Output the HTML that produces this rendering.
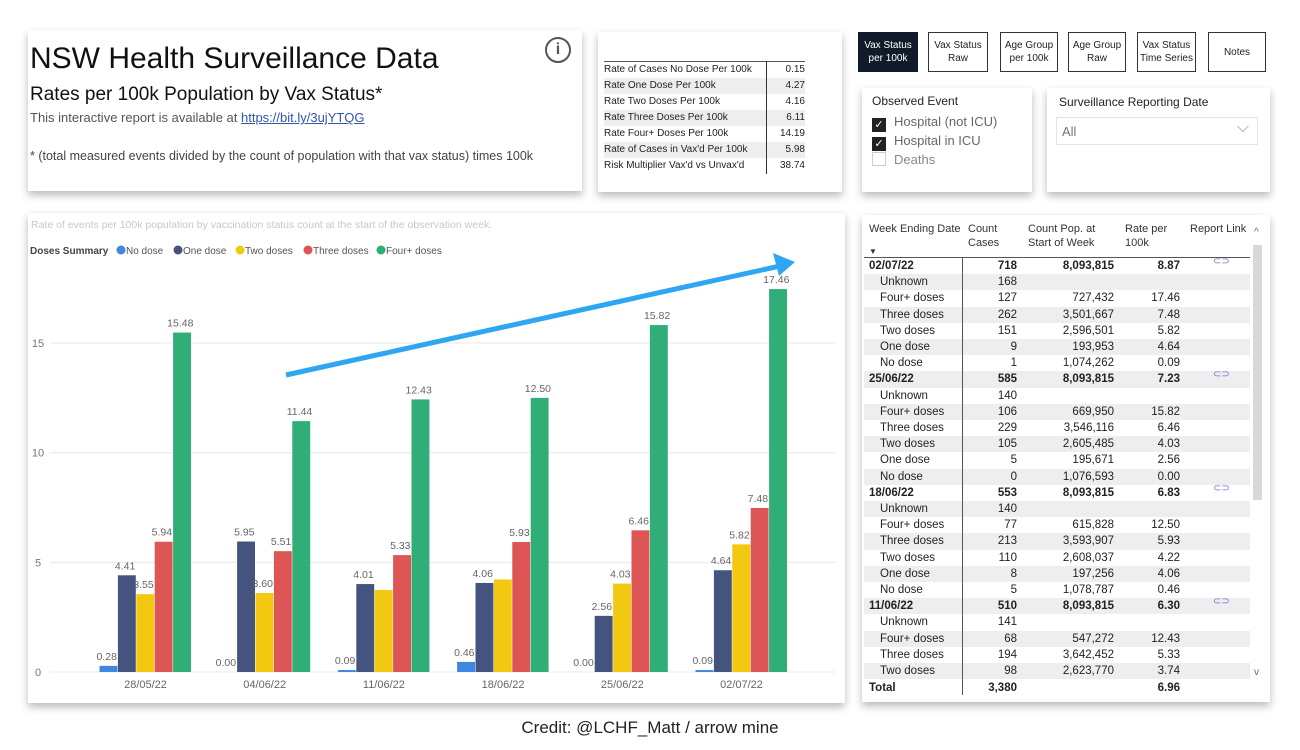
<!DOCTYPE html>
<html><head><meta charset="utf-8"><style>
*{margin:0;padding:0;box-sizing:border-box}
body{width:1300px;height:750px;background:#fff;font-family:"Liberation Sans",sans-serif;position:relative;overflow:hidden;color:#222}
.panel{position:absolute;background:#fff;box-shadow:0 4px 8px rgba(0,0,0,.28)}
.abs{position:absolute;white-space:nowrap}
.btn{position:absolute;top:32px;height:40px;border:1px solid #333;background:#fff;font-size:10px;text-align:center;display:flex;align-items:center;justify-content:center;line-height:13px;color:#222}
table{border-collapse:collapse}
td{white-space:nowrap}
</style></head><body>

<div class="panel" style="left:28px;top:30px;width:554px;height:161px">
  <div class="abs" style="left:2px;top:12px;font-size:30px;color:#111">NSW Health Surveillance Data</div>
  <div class="abs" style="left:2px;top:54px;font-size:19px;color:#111">Rates per 100k Population by Vax Status*</div>
  <div class="abs" style="left:2px;top:80px;font-size:13px;color:#555">This interactive report is available at <span style="color:#3355aa;text-decoration:underline">https://bit.ly/3ujYTQG</span></div>
  <div class="abs" style="left:2px;top:119px;font-size:12.5px;color:#444">* (total measured events divided by the count of population with that vax status) times 100k</div>
  <div class="abs" style="left:517px;top:7px;width:26px;height:26px;border:2px solid #555;border-radius:50%;font-size:16px;font-weight:bold;text-align:center;line-height:22px;color:#555">i</div>
</div>

<div class="panel" style="left:598px;top:32px;width:244px;height:160px">
  <table style="position:absolute;left:6px;top:29px;width:201px;font-size:10px;border-top:1px solid #555">
    <tr><td style="height:16px;width:162px;border-right:1px solid #333">Rate of Cases No Dose Per 100k</td><td style="text-align:right">0.15</td></tr>
    <tr style="background:#eceef0"><td style="height:16px;border-right:1px solid #333">Rate One Dose Per 100k</td><td style="text-align:right">4.27</td></tr>
    <tr><td style="height:16px;border-right:1px solid #333">Rate Two Doses Per 100k</td><td style="text-align:right">4.16</td></tr>
    <tr style="background:#eceef0"><td style="height:16px;border-right:1px solid #333">Rate Three Doses Per 100k</td><td style="text-align:right">6.11</td></tr>
    <tr><td style="height:16px;border-right:1px solid #333">Rate Four+ Doses Per 100k</td><td style="text-align:right">14.19</td></tr>
    <tr style="background:#eceef0"><td style="height:16px;border-right:1px solid #333">Rate of Cases in Vax'd Per 100k</td><td style="text-align:right">5.98</td></tr>
    <tr><td style="height:16px;border-right:1px solid #333">Risk Multiplier Vax'd vs Unvax'd</td><td style="text-align:right">38.74</td></tr>
  </table>
</div>

<div class="btn" style="left:858px;width:60px;background:#111a2a;color:#fff;border-color:#111a2a">Vax Status<br>per 100k</div>
<div class="btn" style="left:928px;width:60px">Vax Status<br>Raw</div>
<div class="btn" style="left:1000px;width:58px">Age Group<br>per 100k</div>
<div class="btn" style="left:1068px;width:58px">Age Group<br>Raw</div>
<div class="btn" style="left:1137px;width:59px">Vax Status<br>Time Series</div>
<div class="btn" style="left:1208px;width:58px">Notes</div>

<div class="panel" style="left:862px;top:88px;width:170px;height:104px">
  <div class="abs" style="left:10px;top:6px;font-size:12px">Observed Event</div>
  <div class="abs" style="left:10px;top:26px;font-size:13px;color:#666"><span style="display:inline-block;width:14px;height:14px;background:#222;color:#fff;font-size:11px;text-align:center;line-height:14px;vertical-align:-2px;margin-right:8px">✓</span>Hospital (not ICU)</div>
  <div class="abs" style="left:10px;top:45px;font-size:13px;color:#666"><span style="display:inline-block;width:14px;height:14px;background:#222;color:#fff;font-size:11px;text-align:center;line-height:14px;vertical-align:-2px;margin-right:8px">✓</span>Hospital in ICU</div>
  <div class="abs" style="left:10px;top:64px;font-size:13px;color:#888"><span style="display:inline-block;width:14px;height:14px;border:1px solid #ccc;vertical-align:-2px;margin-right:8px"></span>Deaths</div>
</div>

<div class="panel" style="left:1047px;top:88px;width:223px;height:104px">
  <div class="abs" style="left:12px;top:7px;font-size:12px">Surveillance Reporting Date</div>
  <div class="abs" style="left:9px;top:29px;width:202px;height:28px;border:1px solid #e4e4e4;font-size:13px;color:#777;padding:6px 5px">All<span style="position:absolute;right:8px;top:1px;font-size:16px;color:#999">⌵</span></div>
</div>

<div class="panel" style="left:28px;top:213px;width:817px;height:490px"></div>
<svg id="chart" width="1300" height="750" style="position:absolute;left:0;top:0"></svg>

<div class="panel" style="left:862px;top:215px;width:408px;height:487px"></div>
<div id="tbl" style="position:absolute;left:0;top:0"></div>

<div class="abs" style="left:0;width:1300px;text-align:center;top:718px;font-size:17px;color:#222">Credit: @LCHF_Matt / arrow mine</div>

<script>
const categories=["28/05/22","04/06/22","11/06/22","18/06/22","25/06/22","02/07/22"];
const seriesNames=["No dose","One dose","Two doses","Three doses","Four+ doses"];
const noDose=[0.28,0.00,0.09,0.46,0.00,0.09];
const oneDose=[4.41,5.95,4.01,4.06,2.56,4.64];
const twoDoses=[3.55,3.60,3.74,4.22,4.03,5.82];
const threeDoses=[5.94,5.51,5.33,5.93,6.46,7.48];
const fourDoses=[15.48,11.44,12.43,12.50,15.82,17.46];
const labelsShown=[[1,1,1,1,1],[1,1,1,1,1],[1,1,0,1,1],[1,1,0,1,1],[1,1,1,1,1],[1,1,1,1,1]];
const yTicks=[0,5,10,15];

const NS="http://www.w3.org/2000/svg";
const svg=document.getElementById('chart');
const colors=["#3f87e0","#45547f","#f2c811","#dd5555","#2fae78"];
const series=[noDose,oneDose,twoDoses,threeDoses,fourDoses];
const y0=672,pxPer=21.93,xL=50,xR=835;
const yS=v=>y0-v*pxPer;
const groupW=119.2,firstC=145.5,barW=18.4;
const xC=i=>firstC+i*groupW;
function mk(tag,attrs,text){const e=document.createElementNS(NS,tag);for(const k in attrs)e.setAttribute(k,attrs[k]);if(text!=null)e.textContent=text;svg.appendChild(e);return e;}

let t=mk('text',{x:31,y:228,'font-size':10.5,fill:'#c8c8c8'},"Rate of events per 100k population by vaccination status count at the start of the observation week.");

t=mk('text',{x:30,y:254,'font-size':10,fill:'#444','font-weight':'bold'},"Doses Summary");

const legX=[121,178,240,308,381];
seriesNames.forEach((n,i)=>{
  const c=mk('circle',{cx:legX[i],cy:250,r:4.5,fill:colors[i]});
  
  const tx=mk('text',{x:legX[i]+5,y:254,'font-size':10,fill:'#555'},n);
  
});
yTicks.forEach(v=>{
  const l=mk('line',{x1:xL,x2:xR,y1:yS(v),y2:yS(v),stroke:'#e8e8e8','stroke-width':1});
  
  const tx=mk('text',{x:38,y:yS(v)+4,'font-size':11,fill:'#777','text-anchor':'middle'},String(v));
  
});
categories.forEach((c,i)=>{
  const tx=mk('text',{x:xC(i),y:688,'font-size':11,fill:'#666','text-anchor':'middle'},c);
  
  series.forEach((s,j)=>{
    const x=xC(i)-2.5*barW+j*barW;
    const v=s[i];
    const r=mk('rect',{x:x,y:yS(v),width:barW-0.5,height:Math.max(v*pxPer,0),fill:colors[j]});
    
    
    if(labelsShown[i][j]){
      const lb=mk('text',{x:x+barW/2-2,y:yS(v)-6,'font-size':10.5,fill:'#666','text-anchor':'middle'},v.toFixed(2));
      
    }
  });
});
let ar=mk('line',{x1:286,y1:375,x2:780,y2:266,stroke:'#2ea6f2','stroke-width':5});

ar=mk('polygon',{points:'795,262 773,253 779,276',fill:'#2ea6f2'});


const rows=[
["02/07/22","718","8,093,815","8.87",1],["Unknown","168","","",0],["Four+ doses","127","727,432","17.46",0],["Three doses","262","3,501,667","7.48",0],["Two doses","151","2,596,501","5.82",0],["One dose","9","193,953","4.64",0],["No dose","1","1,074,262","0.09",0],
["25/06/22","585","8,093,815","7.23",1],["Unknown","140","","",0],["Four+ doses","106","669,950","15.82",0],["Three doses","229","3,546,116","6.46",0],["Two doses","105","2,605,485","4.03",0],["One dose","5","195,671","2.56",0],["No dose","0","1,076,593","0.00",0],
["18/06/22","553","8,093,815","6.83",1],["Unknown","140","","",0],["Four+ doses","77","615,828","12.50",0],["Three doses","213","3,593,907","5.93",0],["Two doses","110","2,608,037","4.22",0],["One dose","8","197,256","4.06",0],["No dose","5","1,078,787","0.46",0],
["11/06/22","510","8,093,815","6.30",1],["Unknown","141","","",0],["Four+ doses","68","547,272","12.43",0],["Three doses","194","3,642,452","5.33",0],["Two doses","98","2,623,770","3.74",0]];
let h='';
const hd='position:absolute;font-size:11px;color:#333;line-height:14px;white-space:nowrap;';
h+=`<div style="${hd}left:869px;top:222px">Week Ending Date</div>`;
h+=`<div style="${hd}left:869px;top:245px;font-size:8px">▼</div>`;
h+=`<div style="${hd}left:968px;top:222px">Count<br>Cases</div>`;
h+=`<div style="${hd}left:1028px;top:222px">Count Pop. at<br>Start of Week</div>`;
h+=`<div style="${hd}left:1125px;top:222px">Rate per<br>100k</div>`;
h+=`<div style="${hd}left:1190px;top:222px">Report Link</div>`;
h+=`<div style="position:absolute;left:864px;top:257px;width:386px;height:1px;background:#555"></div>`;
const rh=16.2,top0=258;
rows.forEach((r,i)=>{
  const y=top0+i*rh;const b=r[4]?'font-weight:bold;':'';
  const bg=(i%2==1)?'#eceef0':'#fff';
  h+=`<div style="position:absolute;left:864px;top:${y}px;width:386px;height:${rh}px;background:${bg};font-size:11.5px;color:#222;${b}line-height:${rh}px">`+
   `<span style="position:absolute;left:${r[4]?5:16}px">${r[0]}</span>`+
   `<span style="position:absolute;right:233px">${r[1]}</span>`+
   `<span style="position:absolute;right:136px">${r[2]}</span>`+
   `<span style="position:absolute;right:70px">${r[3]}</span>`+
   (r[4]?`<span style="position:absolute;left:349px;top:-4px;color:#8a6ad0;font-size:10px;font-weight:normal">⊂⊃</span>`:'')+`</div>`;
});
h+=`<div style="position:absolute;left:962px;top:258px;width:1px;height:437px;background:#555"></div>`;
const ty=top0+rows.length*rh+1;
h+=`<div style="position:absolute;left:864px;top:${ty}px;width:386px;height:16px;font-size:11.5px;font-weight:bold;line-height:16px"><span style="position:absolute;left:5px">Total</span><span style="position:absolute;right:233px">3,380</span><span style="position:absolute;right:70px">6.96</span></div>`;
h+=`<div style="position:absolute;left:1253px;top:245px;width:9px;height:255px;background:#d8d8d8"></div>`;
h+=`<div style="${hd}left:1254px;top:226px;font-size:10px;color:#666">^</div>`;
h+=`<div style="${hd}left:1254px;top:666px;font-size:10px;color:#666">v</div>`;
document.getElementById('tbl').innerHTML=h;
</script>
</body></html>
